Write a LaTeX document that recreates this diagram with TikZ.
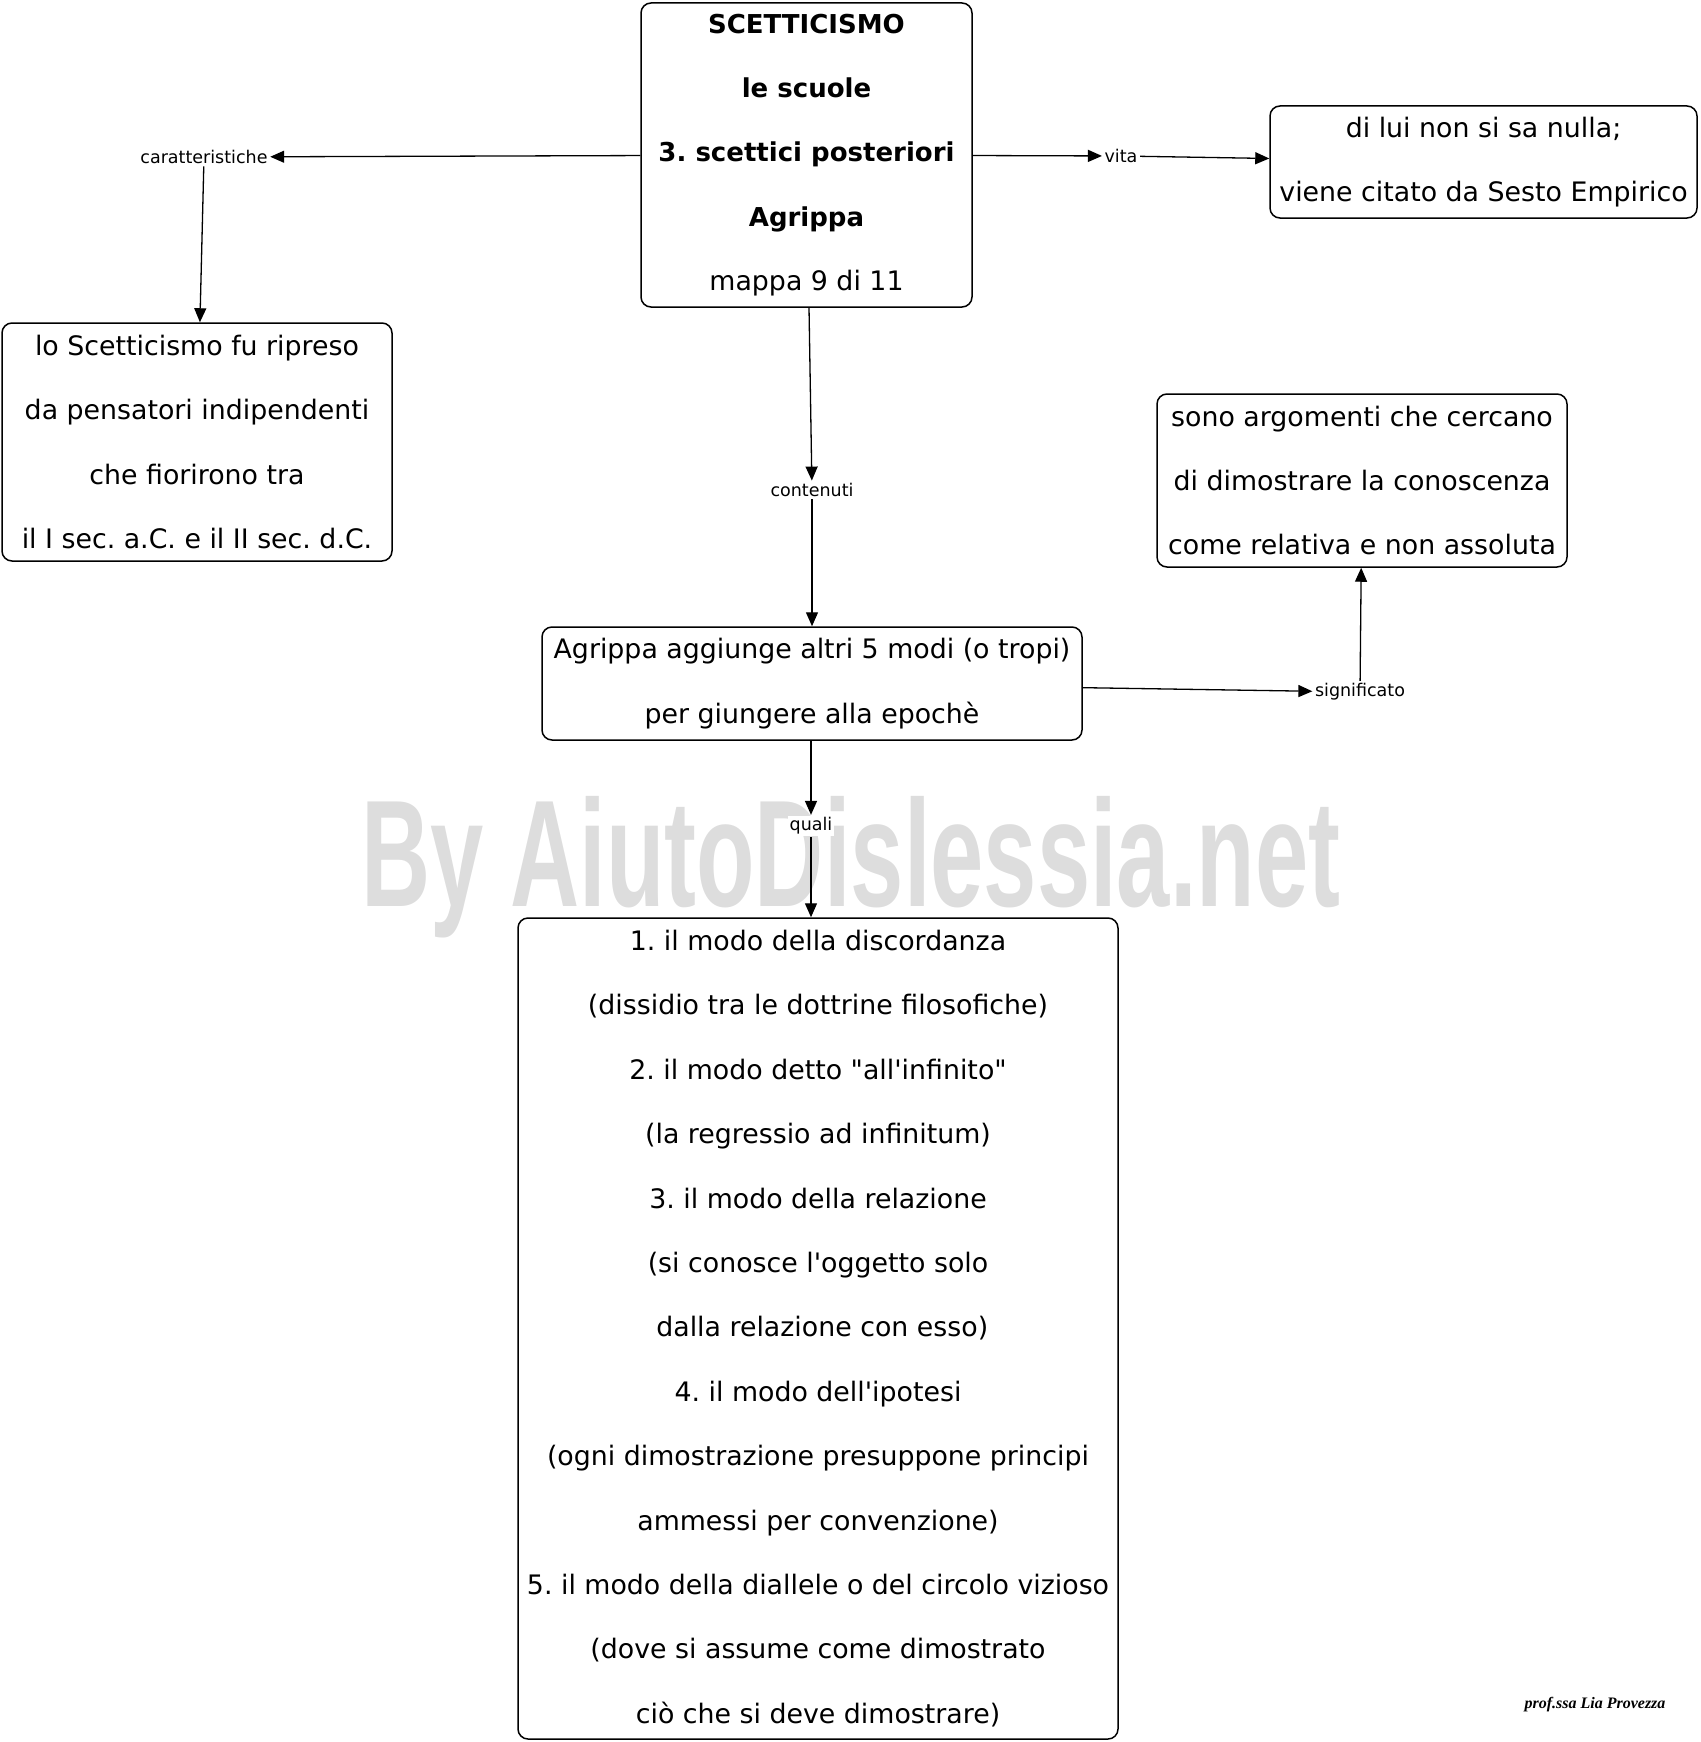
\documentclass[tikz,border=0pt]{standalone}
\usepackage{fontspec}
\setmainfont{DejaVu Sans}[Ligatures=TeXOff]
\newfontfamily\wmfont{Liberation Sans}
\newfontfamily\firmafont{Liberation Serif}
\usetikzlibrary{positioning, arrows.meta}
\frenchspacing

\begin{document}
\begin{tikzpicture}[x=1pt,y=-1pt,
	>={Triangle[length=14pt,width=12pt]},
	box/.style={draw,line width=1.5pt,rounded corners=10pt,fill=white,align=center,inner sep=0pt,font=\fontsize{26.8}{64.4}\selectfont},
	lab/.style={fill=white,inner sep=2pt,font=\fontsize{17.5}{21}\selectfont},
	every path/.style={line width=1.3pt}]
	\useasboundingbox (0,0) rectangle (1700,1742);

	%watermark
	\node (watermark) at (851,906) [anchor=base,text={rgb,255:red,221;green,221;blue,221},xscale=0.63,transform shape,font=\wmfont\bfseries\fontsize{152}{160}\selectfont] {By AiutoDislessia.net};

	\node (scetticismo) at (806.5,155) [box,minimum width=331pt,minimum height=304pt] {\textbf{\fontsize{26}{64.4}\selectfont SCETTICISMO}\\\textbf{\fontsize{26}{64.4}\selectfont le scuole}\\\textbf{\fontsize{26}{64.4}\selectfont 3. scettici posteriori}\\\textbf{\fontsize{26}{64.4}\selectfont Agrippa}\\mappa 9 di 11};
	\node (ripreso) at (197,442) [box,minimum width=390pt,minimum height=238pt] {lo Scetticismo fu ripreso\\da pensatori indipendenti\\che fiorirono tra\\il I sec. a.C. e il II sec. d.C.};
	\node (nulla) at (1483.5,162) [box,minimum width=427pt,minimum height=112pt] {di lui non si sa nulla;\\viene citato da Sesto Empirico};
	\node (tropi) at (812,683.5) [box,minimum width=540pt,minimum height=113pt] {Agrippa aggiunge altri 5 modi (o tropi)\\per giungere alla epochè};
	\node (argomenti) at (1362,480.5) [box,minimum width=410pt,minimum height=173pt] {sono argomenti che cercano\\di dimostrare la conoscenza\\come relativa e non assoluta};
	\node (modi) at (818,1328.5) [box,minimum width=600pt,minimum height=821pt] {1. il modo della discordanza\\(dissidio tra le dottrine filosofiche)\\2. il modo detto "all'infinito"\\(la regressio ad infinitum)\\3. il modo della relazione\\(si conosce l'oggetto solo\\\ dalla relazione con esso)\\4. il modo dell'ipotesi\\(ogni dimostrazione presuppone principi\\ammessi per convenzione)\\5. il modo della diallele o del circolo vizioso\\(dove si assume come dimostrato\\ciò che si deve dimostrare)};

	%labels
	\node[lab] (caratteristiche) at (204,157) {caratteristiche};
	\node[lab] (vita) at (1121,156) {vita};
	\node[lab] (contenuti) at (812,490) {contenuti};
	\node[lab] (significato) at (1360,692) {significato};
	\node[lab] (quali) at (811,826) {quali};

	\path[->] (scetticismo) edge (caratteristiche);
	\path[->] (caratteristiche) edge (ripreso);
	\path[->] (scetticismo) edge (vita);
	\path[->] (vita) edge (nulla);
	\path[->] (scetticismo) edge (contenuti);
	\path[->] (contenuti) edge (tropi);
	\path[->] (tropi) edge (significato);
	\path[->] (significato) edge (argomenti);
	\path[->] (tropi.south -| quali) edge (quali);
	\path[->] (quali) edge (quali |- modi.north);

	\node (firma) at (1595,1705) [font=\firmafont\itshape\bfseries\fontsize{16}{18}\selectfont] {prof.ssa Lia Provezza};
\end{tikzpicture}
\end{document}
